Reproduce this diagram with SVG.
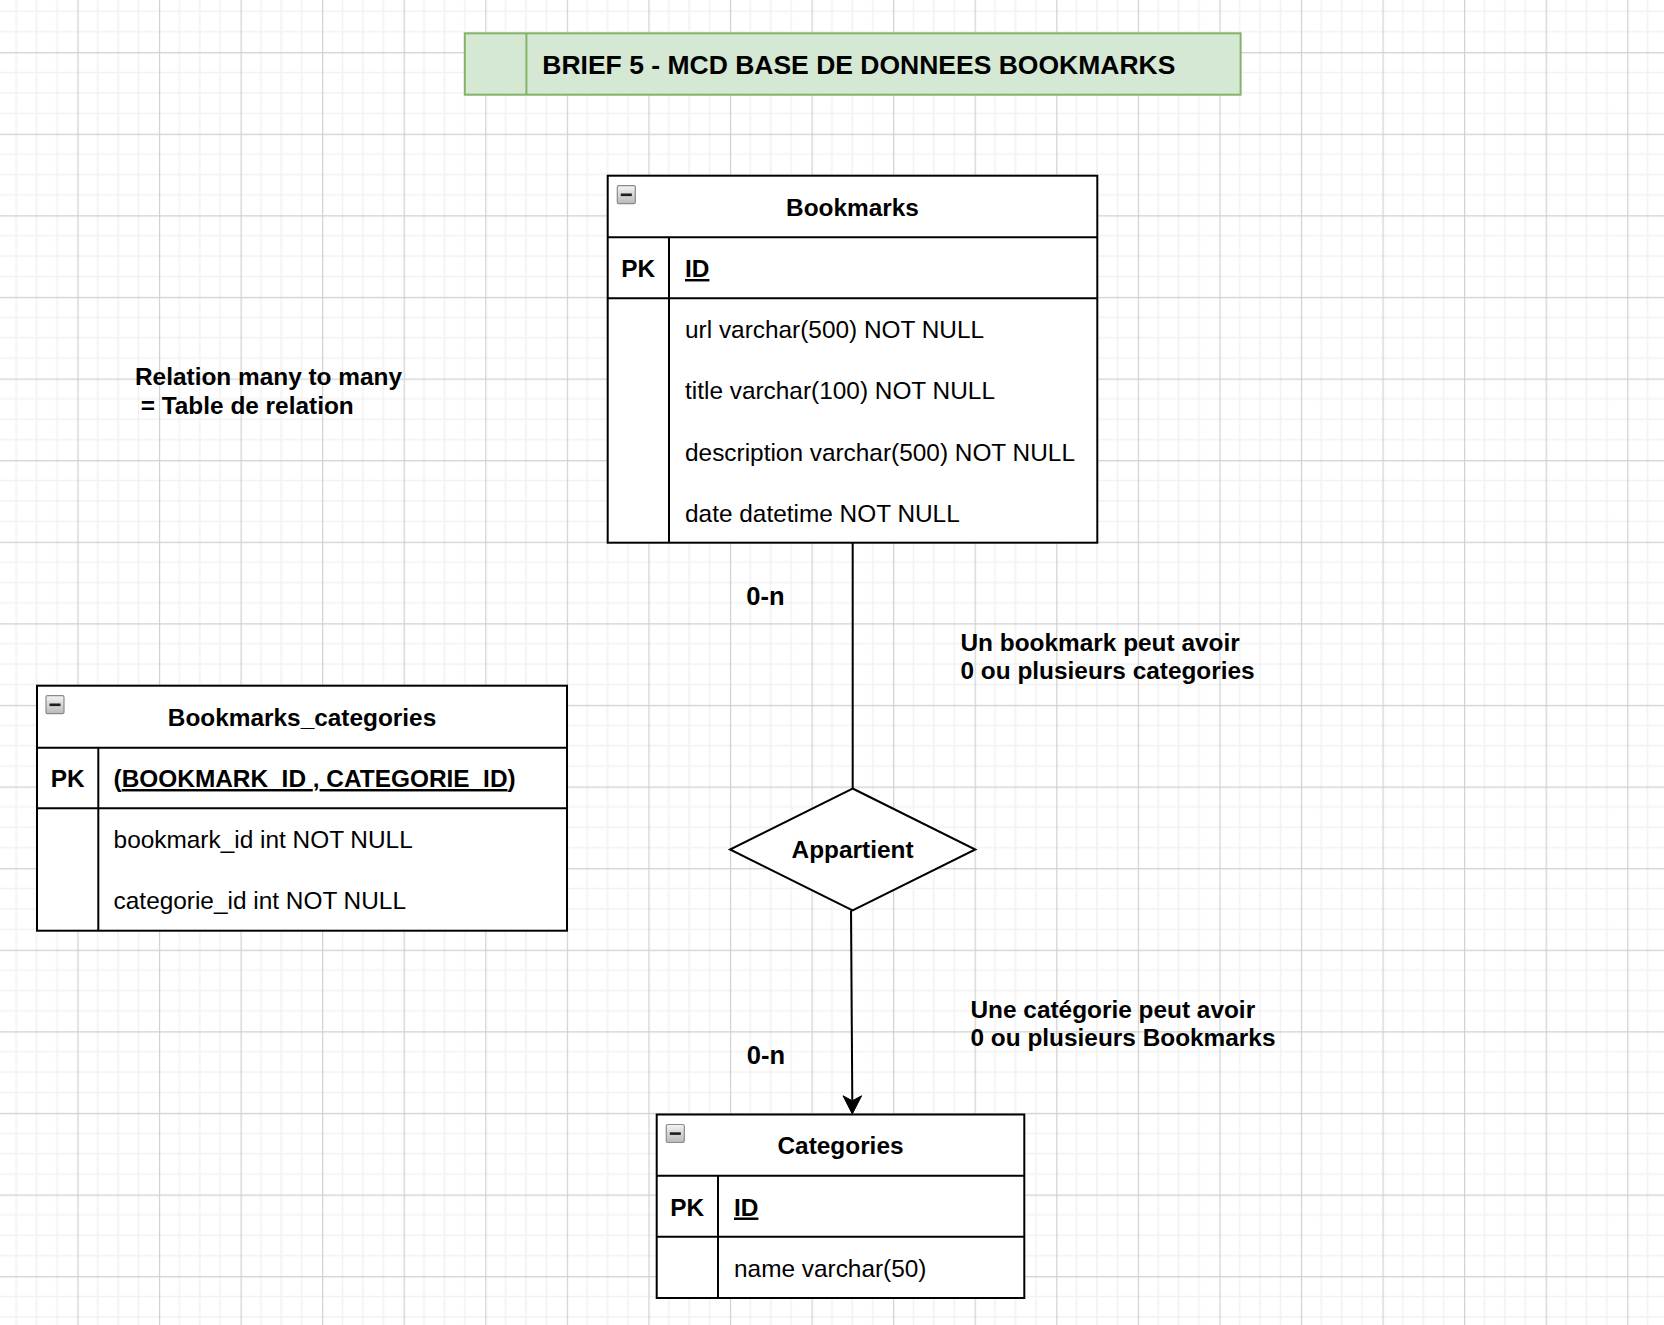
<svg xmlns="http://www.w3.org/2000/svg" width="1664" height="1325" viewBox="0 0 1664 1325">
  <defs>
    <pattern id="grid" patternUnits="userSpaceOnUse" x="-4.2" y="52.1" width="81.57" height="81.6">
      <g stroke="#f2f2f2" stroke-width="1.6">
        <line x1="20.4" y1="0" x2="20.4" y2="81.6"/>
        <line x1="40.8" y1="0" x2="40.8" y2="81.6"/>
        <line x1="61.2" y1="0" x2="61.2" y2="81.6"/>
        <line x1="0" y1="20.4" x2="81.57" y2="20.4"/>
        <line x1="0" y1="40.8" x2="81.57" y2="40.8"/>
        <line x1="0" y1="61.2" x2="81.57" y2="61.2"/>
      </g>
      <g stroke="#d0d0d0" stroke-width="1.2">
        <line x1="0.6" y1="0" x2="0.6" y2="81.6"/>
        <line x1="0" y1="0.6" x2="81.57" y2="0.6"/>
      </g>
    </pattern>
    <linearGradient id="btn" x1="0" y1="0" x2="0" y2="1">
      <stop offset="0" stop-color="#f4f4f4"/>
      <stop offset="1" stop-color="#b9b9b9"/>
    </linearGradient>
    <g id="minus">
      <rect x="0" y="0" width="18" height="18" rx="1.5" fill="url(#btn)" stroke="#8a8a8a" stroke-width="1.2"/>
      <rect x="3.5" y="7.8" width="11" height="2.6" fill="#1e1e1e"/>
    </g>
  </defs>
  <style>
    text { font-family: "Liberation Sans", Arial, Helvetica, sans-serif; fill: #000; }
    .b { font-weight: bold; font-size: 24.4px; }
    .r { font-size: 24.4px; }
    .c { text-anchor: middle; }
    .u { text-decoration: underline; }
    .box { fill: #fff; stroke: #000; stroke-width: 2; }
    .ln { stroke: #000; stroke-width: 2; fill: none; }
    .edge { stroke: #000; stroke-width: 2; fill: none; }
  </style>

  <rect x="0" y="0" width="1664" height="1325" fill="#ffffff"/>
  <rect x="0" y="0" width="1664" height="1325" fill="url(#grid)"/>

  <g id="title">
    <rect x="464.8" y="33.3" width="775.8" height="61.4" fill="#d5e8d4" stroke="#82b366" stroke-width="2"/>
    <line x1="526.4" y1="33.3" x2="526.4" y2="94.7" stroke="#82b366" stroke-width="2"/>
    <text x="542.3" y="73.5" font-weight="bold" font-size="26.5">BRIEF 5 - MCD BASE DE DONNEES BOOKMARKS</text>
  </g>

  <g id="connectors">
    <line class="edge" x1="852.7" y1="542.7" x2="852.7" y2="788.5"/>
    <line class="edge" x1="851" y1="910.5" x2="852.3" y2="1101"/>
    <path d="M852.3,1114 L843,1095.8 L852.3,1100.8 L861.6,1095.8 Z" fill="#000" stroke="#000" stroke-width="1"/>
  </g>

  <g id="bookmarks">
    <rect class="box" x="607.7" y="175.7" width="489.6" height="367"/>
    <line class="ln" x1="607.7" y1="237.3" x2="1097.3" y2="237.3"/>
    <line class="ln" x1="607.7" y1="298.3" x2="1097.3" y2="298.3"/>
    <line class="ln" x1="669" y1="237.3" x2="669" y2="542.7"/>
    <use href="#minus" x="617.3" y="185.7"/>
    <text class="b c" x="852.5" y="216">Bookmarks</text>
    <text class="b c" x="638.3" y="277">PK</text>
    <text class="b u" x="685" y="277">ID</text>
    <text class="r" x="685" y="337.8">url varchar(500) NOT NULL</text>
    <text class="r" x="685" y="399.2">title varchar(100) NOT NULL</text>
    <text class="r" x="685" y="460.6">description varchar(500) NOT NULL</text>
    <text class="r" x="685" y="522">date datetime NOT NULL</text>
  </g>

  <g id="bookmarks_categories">
    <rect class="box" x="37" y="685.7" width="530" height="245"/>
    <line class="ln" x1="37" y1="747.7" x2="567" y2="747.7"/>
    <line class="ln" x1="37" y1="808.3" x2="567" y2="808.3"/>
    <line class="ln" x1="98.3" y1="747.7" x2="98.3" y2="930.7"/>
    <use href="#minus" x="46" y="695.7"/>
    <text class="b c" x="302" y="726">Bookmarks_categories</text>
    <text class="b c" x="67.6" y="787">PK</text>
    <text class="b" x="113.6" y="787" xml:space="preserve">(<tspan class="u">BOOKMARK_ID </tspan>,<tspan class="u"> CATEGORIE_ID</tspan>)</text>
    <text class="r" x="113.6" y="847.8">bookmark_id int NOT NULL</text>
    <text class="r" x="113.6" y="909.2">categorie_id int NOT NULL</text>
  </g>

  <g id="appartient">
    <polygon points="852.6,788.5 975.3,849.5 852.6,910.5 730,849.5" fill="#fff" stroke="#000" stroke-width="2"/>
    <text class="b c" x="852.6" y="857.5">Appartient</text>
  </g>

  <g id="categories">
    <rect class="box" x="656.7" y="1114.5" width="367.6" height="183.5"/>
    <line class="ln" x1="656.7" y1="1175.7" x2="1024.3" y2="1175.7"/>
    <line class="ln" x1="656.7" y1="1236.7" x2="1024.3" y2="1236.7"/>
    <line class="ln" x1="718" y1="1175.7" x2="718" y2="1298"/>
    <use href="#minus" x="666.3" y="1124.5"/>
    <text class="b c" x="840.5" y="1154">Categories</text>
    <text class="b c" x="687.3" y="1215.5">PK</text>
    <text class="b u" x="734" y="1215.5">ID</text>
    <text class="r" x="734" y="1276.5">name varchar(50)</text>
  </g>

  <g id="labels">
    <text class="b" x="135" y="385">Relation many to many</text>
    <text class="b" x="140.7" y="414">= Table de relation</text>
    <text x="746.3" y="604.5" font-weight="bold" font-size="25.5">0-n</text>
    <text x="746.8" y="1063.5" font-weight="bold" font-size="25.5">0-n</text>
    <text class="b" x="960.5" y="651">Un bookmark peut avoir</text>
    <text class="b" x="960.5" y="679">0 ou plusieurs categories</text>
    <text class="b" x="970.5" y="1018">Une catégorie peut avoir</text>
    <text class="b" x="970.5" y="1046">0 ou plusieurs Bookmarks</text>
  </g>
</svg>
